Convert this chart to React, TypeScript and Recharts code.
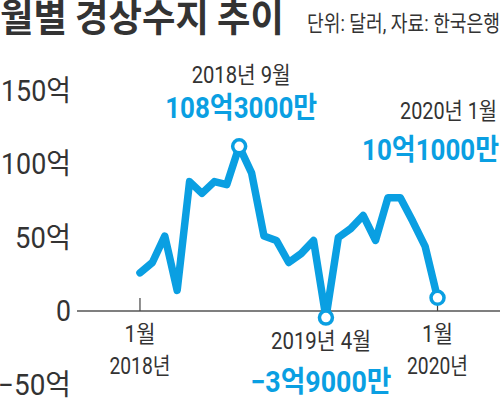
import React from 'react';
import {
  LineChart,
  Line,
  XAxis,
  YAxis,
  ReferenceLine,
  ReferenceDot,
} from 'recharts';

// 2018년 1월 ~ 2020년 1월, 단위: 억 달러
const months = [
  '2018-01', '2018-02', '2018-03', '2018-04', '2018-05', '2018-06',
  '2018-07', '2018-08', '2018-09', '2018-10', '2018-11', '2018-12',
  '2019-01', '2019-02', '2019-03', '2019-04', '2019-05', '2019-06',
  '2019-07', '2019-08', '2019-09', '2019-10', '2019-11', '2019-12',
  '2020-01',
];
const balance = [
  26, 33, 51, 14, 88, 80, 88, 86, 112, 94, 51, 48,
  33, 39, 48, -4.5, 50, 56, 65, 48, 77, 77, 61, 44,
  9,
];
const yTicks = [-50, 0, 50, 100, 150];
const yTickLabels = ['−50억', '0', '50억', '100억', '150억'];
const xTickIdx = [0, 24];
const xTickMonth = ['1월', '1월'];
const xTickYear = ['2018년', '2020년'];
const highlightIdx = [8, 15, 24];
const highlightDate = ['2018년 9월', '2019년 4월', '2020년 1월'];
const highlightValue = ['108억3000만', '−3억9000만', '10억1000만'];

const data = months.map((m, i) => ({ idx: i, month: m, value: balance[i] }));

const BLUE = '#0a9fe2';
const DARK = '#333333';
const FONT = "Roboto, 'Noto Sans CJK KR', sans-serif";
const TITLE_FONT = "'Noto Sans CJK KR', sans-serif";

// the original type is condensed: squeeze each text to its width (px)
const yLabelWidth = [73, 15, 56, 70, 70];
const labelPos = [
  { dx: 2, dyDate: -71, dxVal: 2, dyVal: -38, wDate: 99, wVal: 152 },
  { dx: -5, dyDate: 24, dxVal: -5, dyVal: 64, wDate: 100, wVal: 141 },
  { dx: 11, dyDate: -186, dxVal: -7, dyVal: -148, wDate: 97, wVal: 137 },
];

const YTick = (props: any) => {
  const { x, y, payload } = props;
  const i = yTicks.indexOf(payload.value);
  return (
    <text x={x} y={y} textAnchor="end" dominantBaseline="central"
      style={{ fontFamily: FONT }} fontSize={29} fill={DARK}
      textLength={yLabelWidth[i]} lengthAdjust="spacingAndGlyphs">
      {yTickLabels[i]}
    </text>
  );
};

const renderDot = (props: any) => {
  const { cx, cy, index } = props;
  const h = highlightIdx.indexOf(index);
  if (h < 0) return <g key={`d${index}`} />;
  const p = labelPos[h];
  return (
    <g key={`d${index}`}>
      <circle cx={cx} cy={cy} r={6.5} fill="#fff" stroke={BLUE} strokeWidth={3.5} />
      <text x={cx + p.dx} y={cy + p.dyDate} textAnchor="middle" dominantBaseline="central"
        style={{ fontFamily: FONT }} fontSize={23} fill={DARK}
        textLength={p.wDate} lengthAdjust="spacingAndGlyphs">
        {highlightDate[h]}
      </text>
      <text x={cx + p.dxVal} y={cy + p.dyVal} textAnchor="middle" dominantBaseline="central"
        style={{ fontFamily: FONT }} fontSize={29} fontWeight="bold" fill={BLUE}
        textLength={p.wVal} lengthAdjust="spacingAndGlyphs">
        {highlightValue[h]}
      </text>
    </g>
  );
};

const XTickMark = (i: number) => (props: any) => {
  const { cx, cy } = props;
  return (
    <g>
      <line x1={cx} x2={cx} y1={cy - 13} y2={cy} stroke="#444" strokeWidth={1.2} />
      <text x={cx} y={cy + 23} textAnchor="middle" dominantBaseline="central"
        style={{ fontFamily: FONT }} fontSize={23} fill={DARK}
        textLength={31} lengthAdjust="spacingAndGlyphs">
        {xTickMonth[i]}
      </text>
      <text x={cx} y={cy + 55} textAnchor="middle" dominantBaseline="central"
        style={{ fontFamily: FONT }} fontSize={23} fill={DARK}
        textLength={61} lengthAdjust="spacingAndGlyphs">
        {xTickYear[i]}
      </text>
    </g>
  );
};

export default function App() {
  return (
    <div style={{ position: 'absolute', left: 0, top: 0, width: 500, height: 398, background: '#fff', overflow: 'hidden' }}>
      <svg width={500} height={60} style={{ position: 'absolute', left: 0, top: 0 }}>
        <text x={0} y={31} style={{ fontFamily: TITLE_FONT }} fontWeight={700} fontSize={38} fill={DARK}
          textLength={284} lengthAdjust="spacingAndGlyphs">
          월별 경상수지 추이
        </text>
        <text x={307} y={31} style={{ fontFamily: FONT }} fontSize={22} fill={DARK}
          textLength={193} lengthAdjust="spacingAndGlyphs">
          단위: 달러, 자료: 한국은행
        </text>
      </svg>
      <LineChart
        width={500}
        height={398}
        data={data}
        margin={{ top: 90.5, right: 0, bottom: 13.5, left: 7 }}
        style={{ position: 'absolute', left: 0, top: 0 }}
      >
        <XAxis dataKey="idx" type="number" domain={[-5.08, 29.04]} hide />
        <YAxis
          type="number"
          domain={[-50, 150]}
          ticks={yTicks}
          width={70}
          axisLine={false}
          tickLine={false}
          tickMargin={0}
          tick={<YTick />}
        />
        <ReferenceLine y={0} stroke="#555" strokeWidth={1.5} />
        {xTickIdx.map((x, i) => (
          <ReferenceDot key={x} x={x} y={0} r={0} shape={XTickMark(i)} />
        ))}
        <Line
          type="linear"
          dataKey="value"
          stroke={BLUE}
          strokeWidth={7.5}
          strokeLinejoin="round"
          strokeLinecap="round"
          dot={renderDot}
          activeDot={false}
          isAnimationActive={false}
        />
      </LineChart>
    </div>
  );
}
